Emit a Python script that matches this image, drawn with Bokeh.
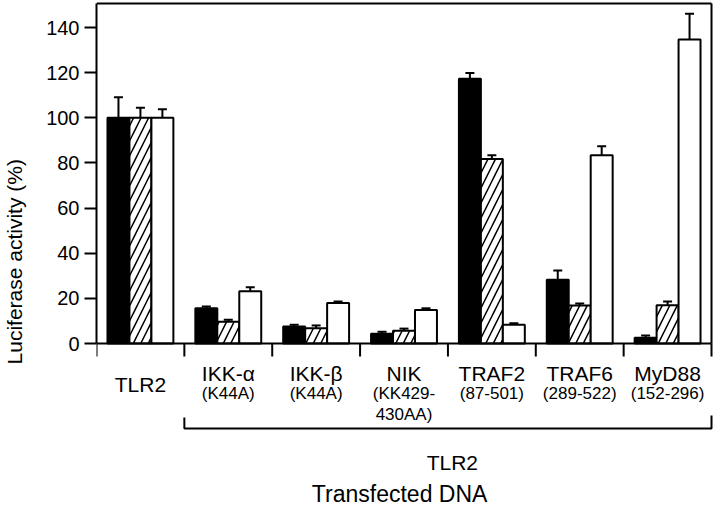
from bokeh.plotting import figure
from bokeh.models import (ColumnDataSource, FixedTicker, Whisker, TeeHead, Range1d)
from bokeh.core.properties import value
from bokeh.embed import file_html
from bokeh.resources import INLINE

# ---------------- data ----------------
groups = ["TLR2", "IKK-\u03b1", "IKK-\u03b2", "NIK", "TRAF2", "TRAF6", "MyD88"]
sub_labels = [[], ["(K44A)"], ["(K44A)"], ["(KK429-", "430AA)"],
              ["(87-501)"], ["(289-522)"], ["(152-296)"]]
black_vals = [100, 15.6, 7.5, 4.3, 117.3, 28.2, 2.5]
black_sd = [9.1, 0.8, 0.8, 0.9, 2.5, 4.1, 1.0]
hatched_vals = [100, 9.6, 6.8, 5.6, 81.7, 16.8, 17.0]
hatched_sd = [4.4, 0.9, 1.2, 1.0, 1.7, 0.9, 1.6]
white_vals = [100, 23.2, 17.9, 14.8, 8.3, 83.4, 134.7]
white_sd = [3.8, 1.7, 0.7, 0.8, 0.7, 4.0, 11.4]
y_ticks = [0, 20, 40, 60, 80, 100, 120, 140]
bracket_label = "TLR2"
bracket_groups = (1, 7)
x_title = "Transfected DNA"
y_title = "Luciferase activity (%)"

FONT = "Liberation Sans"
N = len(groups)
PX = 2.257             # pixels per data unit (vertical)
ZERO_PX = 343          # page row of y = 0
H = 505
Y_TOP = (ZERO_PX - 3) / PX   # top edge of the plot box


def dy(px):
    """convert a vertical pixel distance to data units"""
    return px / PX


p = figure(width=720, height=H,
           x_range=Range1d(0, 621 / 88),
           y_range=Range1d(-(H - ZERO_PX) / PX, ZERO_PX / PX),
           output_backend="svg", toolbar_location=None,
           min_border_left=95, min_border_right=4,
           min_border_top=0, min_border_bottom=0)
p.background_fill_color = "white"
p.border_fill_color = "white"
p.outline_line_color = None
p.xgrid.visible = False
p.ygrid.visible = False
p.xaxis.visible = False

# bars and error bars
series = [
    (black_vals, black_sd, -0.25, dict(fill_color="black")),
    (hatched_vals, hatched_sd, 0.0, dict(fill_color="white", hatch_pattern="/",
                                         hatch_color="black", hatch_scale=15,
                                         hatch_weight=1.5)),
    (white_vals, white_sd, 0.25, dict(fill_color="white")),
]
for vals, sd, off, style in series:
    xs = [i + 0.5 + off for i in range(N)]
    src = ColumnDataSource(dict(x=xs, top=vals,
                                upper=[v + s for v, s in zip(vals, sd)]))
    p.vbar(x="x", top="top", bottom=0, width=0.25, source=src,
           line_color="black", line_width=2, **style)
    p.add_layout(Whisker(source=src, base="x", lower="top", upper="upper",
                         line_color="black", line_width=2, lower_head=None,
                         upper_head=TeeHead(size=9, line_width=2,
                                            line_color="black")))

# box: bottom (x axis line), top, right
p.segment(x0=[0, 0, N], y0=[0, Y_TOP, 0], x1=[N, N, N], y1=[0, Y_TOP, Y_TOP],
          line_color="black", line_width=2)
# x ticks at group boundaries (pointing down)
bounds_x = list(range(N + 1))
p.segment(x0=bounds_x, y0=[0] * len(bounds_x), x1=bounds_x,
          y1=[-dy(13)] * len(bounds_x), line_color="black", line_width=2)

# y axis
yax = p.yaxis[0]
yax.ticker = FixedTicker(ticks=y_ticks)
yax.bounds = (0, Y_TOP)
yax.minor_tick_line_color = None
yax.major_tick_out = 12
yax.major_tick_in = 0
yax.major_tick_line_width = 2
yax.axis_line_width = 2
yax.major_label_text_font = FONT
yax.major_label_text_font_size = "20px"
yax.major_label_text_color = "black"
yax.major_label_standoff = 5
yax.axis_label = y_title + "\u00a0\u00a0\u00a0"
yax.axis_label_text_font = FONT
yax.axis_label_text_font_size = "21px"
yax.axis_label_text_color = "black"
yax.axis_label_text_font_style = "normal"
yax.axis_label_standoff = 17

# category labels
mx, my, mt = [], [], []
sx, sy, st = [], [], []
for i, g in enumerate(groups):
    subs = sub_labels[i]
    mx.append(i + 0.5)
    my.append(-dy(30) if subs else -dy(41))
    mt.append(g)
    for j, s in enumerate(subs):
        sx.append(i + 0.5)
        sy.append(-dy(50) - dy(20.5) * j)
        st.append(s)
p.text(x=mx, y=my, text=mt, text_align="center", text_baseline="alphabetic",
       text_font=value(FONT), text_font_size=value("21px"), text_color="black")
p.text(x=sx, y=sy, text=st, text_align="center", text_baseline="alphabetic",
       text_font=value(FONT), text_font_size=value("17px"), text_color="black")

# bracket under the TLR2 co-transfections
b0, b1 = bracket_groups
p.line(x=[b0, b0, b1, b1], y=[-dy(74), -dy(85), -dy(85), -dy(72)],
       line_color="black", line_width=2)
p.text(x=[(b0 + b1) / 2 + 0.05], y=[-dy(119)], text=[bracket_label],
       text_align="center", text_baseline="alphabetic",
       text_font=value(FONT), text_font_size=value("21px"), text_color="black")
p.text(x=[3.45], y=[-dy(150)], text=[x_title],
       text_align="center", text_baseline="alphabetic",
       text_font=value(FONT), text_font_size=value("23px"), text_color="black")

open("out.html", "w").write(file_html(p, INLINE))
